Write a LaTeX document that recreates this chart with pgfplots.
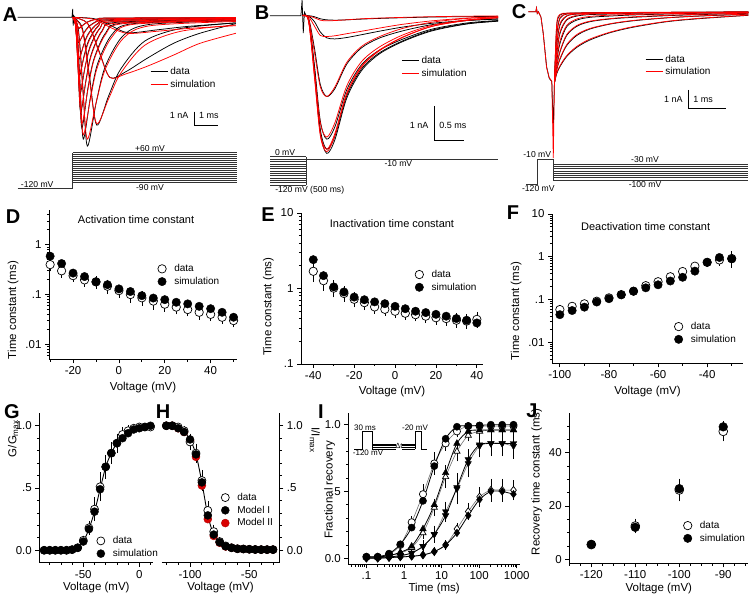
\documentclass[border=0pt]{standalone}
\usepackage{pgfplots}
\pgfplotsset{compat=1.18}
\usepackage{pgfplotstable}
\usepackage{fontspec}
\setmainfont{Liberation Sans}
\newcommand{\fs}[1]{\fontsize{#1}{#1}\selectfont}
\newcommand{\lgsp}[1]{\hspace{6pt}#1}

% ---------- current traces (t in ms, I in nA; d = data, s = simulation)
% panel A, activation
\pgfplotstableread{
t d s
0 0 0
0.9 -0.1 -0.15
1.6 -0.6 -0.75
2.3 -1.1 -1.15
3.5 -0.9 -1.0
4.8 -0.65 -0.8
6.8 -0.4 -0.6
}\tAa
\pgfplotstableread{
t d s
0 0 0
0.62 -0.43 -0.45
1.09 -2.37 -2.45
1.55 -4.3 -4.3
2.2 -3.9 -4.05
3.1 -2.93 -3.5
4.2 -1.86 -2.7
5.3 -1.14 -1.86
6.8 -0.45 -1.14
}\tAb
\pgfplotstableread{
t d s
0 0 0
0.4 -0.77 -0.9
0.7 -4.2 -4.5
1.0 -7.7 -7.6
1.5 -5.6 -5.8
2.0 -3.7 -4.0
3.0 -1.7 -2.0
4.5 -0.8 -1.0
6.8 -0.4 -0.55
}\tAc
\pgfplotstableread{
t d s
0 0 0
0.24 -0.92 -1.1
0.43 -5.1 -5.5
0.61 -9.2 -8.7
0.99 -6.0 -6.0
1.36 -3.5 -3.7
2.11 -1.3 -1.5
3.24 -0.5 -0.6
6.8 -0.25 -0.3
}\tAd
\pgfplotstableread{
t d s
0 0 0
0.18 -0.87 -1.0
0.31 -4.8 -5.2
0.44 -8.7 -8.4
0.74 -5.7 -5.8
1.04 -3.3 -3.5
1.64 -1.22 -1.4
2.54 -0.45 -0.5
6.8 -0.2 -0.25
}\tAe
\pgfplotstableread{
t d s
0 0 0
0.15 -0.79 -0.9
0.27 -4.3 -4.6
0.38 -7.9 -7.6
0.63 -5.1 -5.2
0.88 -3.0 -3.1
1.38 -1.1 -1.2
2.13 -0.4 -0.45
6.8 -0.2 -0.2
}\tAf
\pgfplotstableread{
t d s
0 0 0
0.13 -0.68 -0.75
0.23 -3.7 -3.9
0.33 -6.8 -6.6
0.56 -4.4 -4.5
0.78 -2.6 -2.7
1.23 -0.95 -1.0
1.9 -0.35 -0.4
6.8 -0.15 -0.15
}\tAg
\pgfplotstableread{
t d s
0 0 0
0.12 -0.55 -0.6
0.21 -3.0 -3.2
0.3 -5.5 -5.3
0.51 -3.6 -3.6
0.72 -2.1 -2.2
1.14 -0.77 -0.8
1.77 -0.3 -0.3
6.8 -0.12 -0.12
}\tAh
\pgfplotstableread{
t d s
0 0 0
0.11 -0.42 -0.45
0.2 -2.3 -2.4
0.28 -4.2 -4.0
0.48 -2.7 -2.8
0.68 -1.6 -1.7
1.08 -0.59 -0.62
1.68 -0.22 -0.24
6.8 -0.1 -0.1
}\tAi
\pgfplotstableread{
t d s
0 0 0
0.1 -0.3 -0.32
0.18 -1.65 -1.7
0.26 -3.0 -2.9
0.46 -1.95 -2.0
0.66 -1.14 -1.2
1.06 -0.42 -0.45
1.66 -0.16 -0.17
6.8 -0.07 -0.07
}\tAj
\pgfplotstableread{
t d s
0 0 0
0.1 -0.18 -0.2
0.18 -1.0 -1.05
0.25 -1.8 -1.75
0.45 -1.17 -1.2
0.65 -0.68 -0.72
1.05 -0.25 -0.27
1.65 -0.1 -0.1
6.8 -0.04 -0.04
}\tAk
\pgfplotstableread{
t d s
0 0 0
0.1 -0.08 -0.09
0.18 -0.44 -0.46
0.25 -0.8 -0.78
0.45 -0.52 -0.54
0.65 -0.3 -0.32
1.05 -0.11 -0.12
1.65 -0.05 -0.05
6.8 -0.02 -0.02
}\tAl

% panel B, inactivation (test pulse to -10 mV)
\pgfplotstableread{
t a1 b1 a2 b2 a3 b3 a4 b4 a5 b5 a6 b6
0 0 0 0 0 0 0 0 0 0 0 0 0
0.1 -0.12 -0.16 -0.12 -0.15 -0.11 -0.14 -0.07 -0.09 -0.01 -0.03 0 -0.01
0.2 -1.59 -1.76 -1.54 -1.73 -1.42 -1.58 -0.93 -1.05 -0.17 -0.3 -0.03 -0.06
0.3 -3.37 -3.45 -3.27 -3.39 -3.03 -3.08 -1.98 -2.05 -0.47 -0.57 -0.09 -0.13
0.41 -3.97 -3.92 -3.85 -3.85 -3.56 -3.5 -2.33 -2.33 -0.64 -0.6 -0.12 -0.15
0.55 -3.57 -3.45 -3.47 -3.39 -3.2 -3.08 -2.1 -2.05 -0.67 -0.58 -0.13 -0.14
0.75 -2.38 -2.27 -2.31 -2.23 -2.14 -2.03 -1.4 -1.35 -0.63 -0.52 -0.12 -0.12
1.0 -1.59 -1.49 -1.54 -1.46 -1.42 -1.33 -0.93 -0.89 -0.55 -0.45 -0.1 -0.09
1.3 -1.11 -1.02 -1.08 -1.0 -1.0 -0.91 -0.65 -0.61 -0.45 -0.36 -0.08 -0.07
1.7 -0.75 -0.63 -0.73 -0.62 -0.68 -0.56 -0.44 -0.37 -0.33 -0.25 -0.06 -0.05
2.2 -0.44 -0.31 -0.42 -0.31 -0.39 -0.28 -0.26 -0.19 -0.22 -0.15 -0.04 -0.03
2.8 -0.24 -0.14 -0.23 -0.13 -0.21 -0.12 -0.14 -0.08 -0.14 -0.07 -0.03 -0.015
3.33 -0.16 -0.06 -0.15 -0.06 -0.14 -0.05 -0.09 -0.03 -0.1 -0.04 -0.02 -0.01
}\tB

% panel C, deactivation tails
\pgfplotstableread{
t d s
-0.67 0 0
-0.47 0 0
-0.45 0.2 0.2
-0.43 -0.1 -0.1
-0.4 0 0
-0.33 -0.3 -0.3
-0.27 -1.18 -1.2
-0.18 -3.0 -3.05
-0.11 -3.64 -3.6
-0.04 -3.82 -3.8
0 -6.4 -8.0
0.03 -3.9 -3.9
}\tCpre
\pgfplotstableread{
t a1 b1 a2 b2 a3 b3 a4 b4 a5 b5 a6 b6 a7 b7 a8 b8
0.03 -3.9 -3.9 -3.9 -3.9 -3.9 -3.9 -3.9 -3.9 -3.9 -3.9 -3.9 -3.9 -3.9 -3.9 -3.9 -3.9
0.09 -0.82 -0.7 -1.37 -1.25 -1.91 -1.8 -2.37 -2.3 -2.73 -2.65 -3.0 -2.95 -3.2 -3.15 -3.4 -3.35
0.18 -0.18 -0.15 -0.36 -0.32 -0.73 -0.65 -1.18 -1.1 -1.73 -1.6 -2.2 -2.15 -2.6 -2.55 -3.0 -2.95
0.36 -0.09 -0.08 -0.13 -0.12 -0.24 -0.22 -0.46 -0.42 -0.82 -0.75 -1.3 -1.25 -1.85 -1.8 -2.45 -2.4
0.63 -0.07 -0.07 -0.09 -0.09 -0.13 -0.12 -0.24 -0.2 -0.46 -0.4 -0.8 -0.76 -1.3 -1.25 -1.95 -1.9
0.98 -0.06 -0.06 -0.07 -0.07 -0.09 -0.09 -0.16 -0.13 -0.31 -0.26 -0.55 -0.52 -0.95 -0.92 -1.55 -1.5
1.52 -0.05 -0.05 -0.06 -0.06 -0.07 -0.07 -0.13 -0.1 -0.24 -0.19 -0.4 -0.38 -0.68 -0.66 -1.15 -1.12
2.14 -0.05 -0.04 -0.05 -0.05 -0.06 -0.06 -0.09 -0.08 -0.18 -0.15 -0.31 -0.28 -0.5 -0.48 -0.85 -0.82
3.04 -0.04 -0.03 -0.04 -0.04 -0.05 -0.05 -0.06 -0.06 -0.13 -0.11 -0.22 -0.2 -0.34 -0.33 -0.55 -0.53
3.93 -0.03 -0.03 -0.03 -0.03 -0.04 -0.04 -0.05 -0.05 -0.09 -0.08 -0.16 -0.14 -0.24 -0.23 -0.38 -0.36
5.23 -0.02 -0.02 -0.02 -0.02 -0.03 -0.03 -0.03 -0.03 -0.05 -0.05 -0.09 -0.08 -0.14 -0.13 -0.2 -0.19
}\tC

% ---------- summary data (o = data, e = SEM, f = simulation)
\pgfplotstableread{
v o e f
-30 0.40 0.08 0.59
-25 0.30 0.06 0.42
-20 0.24 0.04 0.27
-15 0.197 0.04 0.23
-10 0.18 0.035 0.18
-5 0.147 0.035 0.158
0 0.12 0.025 0.13
5 0.10 0.025 0.115
10 0.086 0.02 0.095
15 0.074 0.02 0.085
20 0.064 0.015 0.079
25 0.056 0.012 0.070
30 0.050 0.01 0.065
35 0.044 0.01 0.058
40 0.040 0.008 0.052
45 0.035 0.007 0.044
50 0.030 0.006 0.035
}\tD
\pgfplotstableread{
v o e f
-40 1.69 0.4 2.41
-35 1.27 0.28 1.48
-30 1.01 0.2 1.05
-25 0.86 0.15 0.90
-20 0.72 0.12 0.77
-15 0.65 0.1 0.71
-10 0.57 0.08 0.665
-5 0.53 0.07 0.63
0 0.50 0.07 0.58
5 0.47 0.06 0.54
10 0.45 0.06 0.50
15 0.43 0.06 0.48
20 0.41 0.06 0.455
25 0.40 0.06 0.43
30 0.38 0.06 0.40
35 0.37 0.06 0.38
40 0.39 0.07 0.35
}\tE
\pgfplotstableread{
v o e f
-100 0.058 0.008 0.044
-95 0.069 0.008 0.055
-90 0.079 0.01 0.066
-85 0.091 0.01 0.087
-80 0.109 0.012 0.104
-75 0.13 0.015 0.128
-70 0.156 0.015 0.156
-65 0.21 0.02 0.187
-60 0.26 0.02 0.22
-55 0.34 0.03 0.27
-50 0.45 0.04 0.33
-45 0.60 0.05 0.46
-40 0.74 0.1 0.74
-35 0.84 0.15 0.96
-30 0.91 0.3 0.89
}\tF
\pgfplotstableread{
v o e f
-85 0 0 0
-80 0 0 0
-75 0 0 0
-70 0 0 0
-65 0 0 0
-60 0.005 0 0.005
-55 0.02 0.01 0.02
-50 0.08 0.02 0.07
-45 0.18 0.04 0.17
-40 0.33 0.08 0.31
-35 0.51 0.1 0.49
-30 0.67 0.08 0.67
-25 0.78 0.07 0.78
-20 0.86 0.06 0.86
-15 0.93 0.04 0.90
-10 0.96 0.03 0.94
-5 0.98 0.02 0.97
0 0.99 0.02 0.98
5 0.99 0.01 0.99
10 0.99 0.01 1.0
}\tG
\pgfplotstableread{
v o e f m
-120 1.0 0 1.0 1.0
-115 1.0 0 1.0 1.0
-110 0.99 0.01 0.98 0.98
-105 0.96 0.02 0.95 0.95
-100 0.87 0.05 0.89 0.88
-95 0.78 0.06 0.77 0.75
-90 0.56 0.07 0.545 0.52
-85 0.32 0.06 0.28 0.25
-80 0.15 0.04 0.126 0.115
-75 0.07 0.02 0.064 0.06
-70 0.035 0.01 0.032 0.03
-65 0.02 0 0.02 0.02
-60 0.012 0 0.012 0.012
-55 0.01 0 0.01 0.01
-50 0.008 0 0.008 0.008
-45 0.006 0 0.006 0.006
-40 0.005 0 0.005 0.005
-35 0.005 0 0.005 0.005
-30 0.005 0 0.005 0.005
}\tH
\pgfplotstableread{
t a ao ae b bo be c co ce d do de
0.1 0.012 0.01 0 0.01 0.01 0 0.005 0.005 0 0 0 0
0.2 0.012 0.01 0 0.01 0.01 0 0.005 0.005 0 0 0 0
0.4 0.035 0.03 0 0.02 0.02 0 0.01 0.01 0 0.005 0.005 0
0.8 0.105 0.1 0.01 0.045 0.04 0.01 0.02 0.02 0.01 0.01 0.01 0
1.6 0.23 0.27 0.03 0.09 0.08 0.02 0.04 0.04 0.02 0.015 0.015 0.01
3.2 0.43 0.48 0.06 0.22 0.19 0.03 0.09 0.09 0.03 0.025 0.025 0.01
6.4 0.69 0.71 0.07 0.40 0.38 0.05 0.18 0.18 0.05 0.05 0.05 0.02
12.8 0.895 0.86 0.04 0.64 0.61 0.07 0.32 0.35 0.06 0.10 0.10 0.02
25.6 0.985 0.95 0.03 0.86 0.80 0.06 0.53 0.52 0.1 0.19 0.22 0.03
51.2 0.99 0.99 0.01 0.95 0.92 0.03 0.74 0.71 0.09 0.32 0.35 0.05
102.4 0.995 0.99 0.01 0.96 0.95 0.02 0.85 0.84 0.07 0.44 0.46 0.06
204.8 1.0 0.99 0.01 0.96 0.96 0.01 0.86 0.86 0.08 0.50 0.51 0.07
409.6 1.0 0.99 0.01 0.96 0.96 0.01 0.86 0.86 0.08 0.50 0.51 0.07
819.2 1.0 0.99 0.01 0.96 0.96 0.01 0.86 0.84 0.08 0.48 0.51 0.06
}\tI
\pgfplotstableread{
v o e f
-120 5.5 1 5.6
-110 12.5 2 12.0
-100 26.0 3.5 26.5
-90 48.0 3 49.7
}\tJ

\pgfplotsset{
  panel/.style={scale only axis, anchor=south west, clip=false,
    axis x line*=bottom, axis y line*=left,
    axis line style={line width=0.9pt},
    tick align=outside, major tick length=4pt, minor tick length=2.2pt,
    tick style={black, line width=0.8pt},
    tick label style={font=\fs{11.5}},
    label style={font=\fs{11.5}},
    legend cell align=left,
    legend style={draw=none, fill=none, font=\fs{10}, anchor=north west,
      inner sep=0pt, row sep=0pt}},
  trace/.style={hide axis, clip=false, anchor=south west,
    legend cell align=left,
    legend style={draw=none, fill=none, font=\fs{10}, anchor=north west,
      inner sep=0pt, row sep=0pt}},
  tr/.style={forget plot, smooth, tension=0.5, line width=0.75pt},
  prot/.style={forget plot, black!80, line width=0.55pt},
  od/.style={only marks, mark=*, mark size=#1, mark options={fill=white, draw=black, line width=0.7pt}},
  od/.default=4.2pt,
  fd/.style={only marks, mark=*, mark size=#1, mark options={fill=black, draw=black}},
  fd/.default=4.2pt,
  eb/.style={/pgfplots/error bars/y dir=both, /pgfplots/error bars/y explicit,
    /pgfplots/error bars/error bar style={line width=0.6pt, black},
    /pgfplots/error bars/error mark options={mark size=2pt, line width=0.6pt, black}},
}

\begin{document}
\begin{tikzpicture}
\useasboundingbox (0pt,0pt) rectangle (751pt,-596pt);

\foreach \l/\x/\y in {A/10/15, B/262/13, C/519/12, D/13/217, E/268/215, F/513/213, G/12/412, H/163/412, I/321/412, J/532/411}
  \node[font=\fs{20}\bfseries] at (\x pt,-\y pt) {\l};

% ================= A traces
\begin{axis}[trace, at={(17.5pt,-151.7pt)}, x=24pt, y=14pt,
  xmin=-2.3, xmax=6.85, ymin=-9.6, ymax=0.8,
  legend style={at={(0.603,0.595)}, anchor=north west}]
\addlegendimage{color=black, line width=1.2pt}\addlegendentry{data}
\addlegendimage{color=red, line width=1.2pt}\addlegendentry{simulation}
\addplot[forget plot, black, line width=0.75pt] coordinates {(-2.3,0) (-0.03,0) (0,0.6) (0.02,-0.6) (0.05,0.1) (0.08,0)};
\addplot[tr, black] table[x=t, y=d]{\tAa};
\addplot[tr, black] table[x=t, y=d]{\tAb};
\addplot[tr, black] table[x=t, y=d]{\tAc};
\addplot[tr, black] table[x=t, y=d]{\tAd};
\addplot[tr, black] table[x=t, y=d]{\tAe};
\addplot[tr, black] table[x=t, y=d]{\tAf};
\addplot[tr, black] table[x=t, y=d]{\tAg};
\addplot[tr, black] table[x=t, y=d]{\tAh};
\addplot[tr, black] table[x=t, y=d]{\tAi};
\addplot[tr, black] table[x=t, y=d]{\tAj};
\addplot[tr, black] table[x=t, y=d]{\tAk};
\addplot[tr, black] table[x=t, y=d]{\tAl};
\addplot[tr, red] table[x=t, y=s]{\tAa};
\addplot[tr, red] table[x=t, y=s]{\tAb};
\addplot[tr, red] table[x=t, y=s]{\tAc};
\addplot[tr, red] table[x=t, y=s]{\tAd};
\addplot[tr, red] table[x=t, y=s]{\tAe};
\addplot[tr, red] table[x=t, y=s]{\tAf};
\addplot[tr, red] table[x=t, y=s]{\tAg};
\addplot[tr, red] table[x=t, y=s]{\tAh};
\addplot[tr, red] table[x=t, y=s]{\tAi};
\addplot[tr, red] table[x=t, y=s]{\tAj};
\addplot[tr, red] table[x=t, y=s]{\tAk};
\addplot[tr, red] table[x=t, y=s]{\tAl};
\addplot[forget plot, black, line width=0.9pt] coordinates {(5.07,-6.74) (5.07,-7.76) (6.07,-7.76)};
\node[anchor=east, font=\fs{9}] at (axis cs:4.97,-7.0) {1 nA};
\node[anchor=west, font=\fs{9}] at (axis cs:5.12,-7.0) {1 ms};
\end{axis}

% A protocol
\begin{axis}[trace, at={(17.5pt,-189.7pt)}, x=24pt, y=0.2pt,
  xmin=-2.3, xmax=6.85, ymin=-125, ymax=65]
\addplot[prot] coordinates {(-2.3,-120) (0,-120) (0,60)};
\pgfplotsinvokeforeach{-90,-80,-70,-60,-50,-40,-30,-20,-10,0,10,20,30,40,50,60}{
  \addplot[prot] coordinates {(0,#1) (6.85,#1)};}
\node[anchor=south, font=\fs{8.6}, inner sep=1pt] at (axis cs:3.22,60) {+60 mV};
\node[anchor=north, font=\fs{8.6}, inner sep=1pt] at (axis cs:3.22,-91) {-90 mV};
\node[anchor=south, font=\fs{8.6}, inner sep=1pt] at (axis cs:-1.48,-119) {-120 mV};
\end{axis}

% ================= B traces
\begin{axis}[trace, at={(269.8pt,-161.4pt)}, x=58.7pt, y=34.7pt,
  xmin=-0.56, xmax=3.33, ymin=-4.2, ymax=0.3,
  legend style={at={(0.575,0.688)}, anchor=north west}]
\addlegendimage{color=black, line width=1.2pt}\addlegendentry{data}
\addlegendimage{color=red, line width=1.2pt}\addlegendentry{simulation}
\addplot[forget plot, black, line width=0.75pt] coordinates {(-0.56,0) (-0.03,0) (-0.01,0.45) (0.01,-0.5) (0.03,0.1) (0.06,0)};
\addplot[tr, black] table[x=t, y=a1]{\tB};
\addplot[tr, black] table[x=t, y=a2]{\tB};
\addplot[tr, black] table[x=t, y=a3]{\tB};
\addplot[tr, black] table[x=t, y=a4]{\tB};
\addplot[tr, black] table[x=t, y=a5]{\tB};
\addplot[tr, black] table[x=t, y=a6]{\tB};
\addplot[tr, red] table[x=t, y=b1]{\tB};
\addplot[tr, red] table[x=t, y=b2]{\tB};
\addplot[tr, red] table[x=t, y=b3]{\tB};
\addplot[tr, red] table[x=t, y=b4]{\tB};
\addplot[tr, red] table[x=t, y=b5]{\tB};
\addplot[tr, red] table[x=t, y=b6]{\tB};
\addplot[forget plot, black, line width=0.9pt] coordinates {(2.24,-2.6) (2.24,-3.6) (2.74,-3.6)};
\node[anchor=east, font=\fs{9}] at (axis cs:2.2,-3.15) {1 nA};
\node[anchor=west, font=\fs{9}] at (axis cs:2.27,-3.15) {0.5 ms};
\end{axis}

% B protocol
\begin{axis}[trace, at={(269.8pt,-186.2pt)}, x=58.7pt, y=0.236pt,
  xmin=-0.56, xmax=3.33, ymin=-125, ymax=5]
\pgfplotsinvokeforeach{0,-10,-20,-30,-40,-50,-60,-70,-80,-90,-100,-110,-120}{
  \addplot[prot] coordinates {(-0.55,#1) (0.056,#1)};}
\addplot[prot] coordinates {(0.056,-120) (0.056,0)};
\addplot[prot] coordinates {(0.056,-10) (3.33,-10)};
\node[anchor=south, font=\fs{8.6}, inner sep=1pt] at (axis cs:-0.3,0) {0 mV};
\node[anchor=north, font=\fs{8.6}, inner sep=1pt] at (axis cs:1.63,-11) {-10 mV};
\node[anchor=north, font=\fs{8.6}, inner sep=1pt] at (axis cs:0.12,-121) {-120 mV (500 ms)};
\end{axis}

% ================= C traces
\begin{axis}[trace, at={(528.3pt,-159.9pt)}, x=37.3pt, y=18.3pt,
  xmin=-0.67, xmax=5.23, ymin=-8.1, ymax=0.4,
  legend style={at={(0.53,0.69)}, anchor=north west}]
\addlegendimage{color=black, line width=1.2pt}\addlegendentry{data}
\addlegendimage{color=red, line width=1.2pt}\addlegendentry{simulation}
\addplot[forget plot, black, line width=0.75pt] table[x=t, y=d]{\tCpre};
\addplot[tr, black] table[x=t, y=a1]{\tC};
\addplot[tr, black] table[x=t, y=a2]{\tC};
\addplot[tr, black] table[x=t, y=a3]{\tC};
\addplot[tr, black] table[x=t, y=a4]{\tC};
\addplot[tr, black] table[x=t, y=a5]{\tC};
\addplot[tr, black] table[x=t, y=a6]{\tC};
\addplot[tr, black] table[x=t, y=a7]{\tC};
\addplot[tr, black] table[x=t, y=a8]{\tC};
\addplot[forget plot, red, line width=0.75pt] table[x=t, y=s]{\tCpre};
\addplot[tr, red] table[x=t, y=b1]{\tC};
\addplot[tr, red] table[x=t, y=b2]{\tC};
\addplot[tr, red] table[x=t, y=b3]{\tC};
\addplot[tr, red] table[x=t, y=b4]{\tC};
\addplot[tr, red] table[x=t, y=b5]{\tC};
\addplot[tr, red] table[x=t, y=b6]{\tC};
\addplot[tr, red] table[x=t, y=b7]{\tC};
\addplot[tr, red] table[x=t, y=b8]{\tC};
\addplot[forget plot, black, line width=0.9pt] coordinates {(3.62,-4.28) (3.62,-5.28) (4.62,-5.28)};
\node[anchor=east, font=\fs{9}] at (axis cs:3.56,-4.77) {1 nA};
\node[anchor=west, font=\fs{9}] at (axis cs:3.66,-4.77) {1 ms};
\end{axis}

% C protocol
\begin{axis}[trace, at={(526.4pt,-185.7pt)}, x=37.3pt, y=0.2286pt,
  xmin=-0.72, xmax=5.23, ymin=-125, ymax=0]
\addplot[prot] coordinates {(-0.72,-120) (-0.42,-120) (-0.42,-10) (0,-10) (0,-100)};
\pgfplotsinvokeforeach{-30,-40,-50,-60,-70,-80,-90,-100}{
  \addplot[prot] coordinates {(0,#1) (5.23,#1)};}
\node[anchor=south, font=\fs{8.6}, inner sep=1pt] at (axis cs:-0.43,-9) {-10 mV};
\node[anchor=south, font=\fs{8.6}, inner sep=1pt] at (axis cs:2.46,-29) {-30 mV};
\node[anchor=north, font=\fs{8.6}, inner sep=1pt] at (axis cs:2.46,-101) {-100 mV};
\node[anchor=north, font=\fs{8.6}, inner sep=1pt] at (axis cs:-0.4,-121) {-120 mV};
\end{axis}

% ================= D
\begin{axis}[panel, at={(49pt,-359.3pt)}, width=188pt, height=149.3pt,
  xmin=-30.5, xmax=51.5, ymode=log, ymin=0.005, ymax=5,
  xtick={-20,0,20,40}, xticklabels={-20,0,20,40}, minor xtick={-30,-10,10,30,50},
  ytick={0.01,0.1,1}, yticklabels={.01,.1,1},
  minor ytick={0.006,0.007,0.008,0.009,0.02,0.03,0.04,0.05,0.06,0.07,0.08,0.09,0.2,0.3,0.4,0.5,0.6,0.7,0.8,0.9,2,3,4},
  xlabel={Voltage (mV)}, ylabel={Time constant (ms)},
  ylabel style={at={(ticklabel cs:0.33)}},
  legend style={at={(0.578,0.65)}, anchor=north west}]
\addplot[od, forget plot, eb] table[x=v, y=o, y error=e]{\tD};
\addplot[fd, forget plot] table[x=v, y=f]{\tD};
\node[font=\fs{11}] at (rel axis cs:0.463,0.933) {Activation time constant};
\addlegendimage{od}\addlegendentry{\lgsp{data}}
\addlegendimage{fd}\addlegendentry{\lgsp{simulation}}
\end{axis}

% ================= E
\begin{axis}[panel, at={(301pt,-364pt)}, width=182pt, height=151pt,
  xmin=-46, xmax=43, ymode=log, ymin=0.1, ymax=10,
  xtick={-40,-20,0,20,40}, xticklabels={-40,-20,0,20,40}, minor xtick={-30,-10,10,30},
  ytick={0.1,1,10}, yticklabels={.1,1,10},
  minor ytick={0.2,0.3,0.4,0.5,0.6,0.7,0.8,0.9,2,3,4,5,6,7,8,9},
  xlabel={Voltage (mV)}, ylabel={Time constant (ms)},
  ylabel style={at={(ticklabel cs:0.38)}},
  legend style={at={(0.626,0.636)}, anchor=north west}]
\addplot[od, forget plot, eb] table[x=v, y=o, y error=e]{\tE};
\addplot[fd, forget plot] table[x=v, y=f]{\tE};
\node[font=\fs{11}] at (rel axis cs:0.5,0.93) {Inactivation time constant};
\addlegendimage{od}\addlegendentry{\lgsp{data}}
\addlegendimage{fd}\addlegendentry{\lgsp{simulation}}
\end{axis}

% ================= F
\begin{axis}[panel, at={(552pt,-363.3pt)}, width=191pt, height=149.3pt,
  xmin=-103.2, xmax=-25.4, ymode=log, ymin=0.0032, ymax=10,
  xtick={-100,-80,-60,-40}, xticklabels={-100,-80,-60,-40}, minor xtick={-90,-70,-50,-30},
  ytick={0.01,0.1,1,10}, yticklabels={.01,.1,1,10},
  minor ytick={0.004,0.005,0.006,0.007,0.008,0.009,0.02,0.03,0.04,0.05,0.06,0.07,0.08,0.09,0.2,0.3,0.4,0.5,0.6,0.7,0.8,0.9,2,3,4,5,6,7,8,9},
  xlabel={Voltage (mV)}, ylabel={Time constant (ms)},
  ylabel style={at={(ticklabel cs:0.35)}},
  legend style={at={(0.64,0.29)}, anchor=north west}]
\addplot[od, forget plot, eb] table[x=v, y=o, y error=e]{\tF};
\addplot[fd, forget plot] table[x=v, y=f]{\tF};
\node[font=\fs{11}] at (rel axis cs:0.49,0.915) {Deactivation time constant};
\addlegendimage{od}\addlegendentry{\lgsp{data}}
\addlegendimage{fd}\addlegendentry{\lgsp{simulation}}
\end{axis}

% ================= G
\begin{axis}[panel, at={(39.3pt,-562.7pt)}, width=114pt, height=149.4pt,
  xmin=-89.3, xmax=12.5, ymin=-0.1, ymax=1.1,
  xtick={-50,0}, xticklabels={-50,0}, minor xtick={-80,-70,-60,-40,-30,-20,-10,10},
  ytick={0,0.5,1}, yticklabels={0.0,.5,1.0},
  minor ytick={0.1,0.2,0.3,0.4,0.6,0.7,0.8,0.9},
  xlabel={Voltage (mV)}, ylabel={G/G\textsubscript{max}},
  xlabel style={yshift=3pt},
  ylabel style={at={(axis description cs:-0.23,0.83)}, anchor=center},
  legend style={at={(0.503,0.19)}, anchor=north west}]
\addplot[forget plot, smooth, black, line width=0.9pt] table[x=v, y=f]{\tG};
\addplot[od=4pt, forget plot, eb] table[x=v, y=o, y error=e]{\tG};
\addplot[fd=4pt, forget plot] table[x=v, y=f]{\tG};
\addlegendimage{od=4pt}\addlegendentry{\lgsp{data}}
\addlegendimage{fd=4pt}\addlegendentry{\lgsp{simulation}}
\end{axis}

% ================= H
\begin{axis}[panel, at={(161.7pt,-562.7pt)}, width=117.6pt, height=149.4pt,
  axis y line*=right, yticklabel pos=right,
  xmin=-123.9, xmax=-24.7, ymin=-0.1, ymax=1.1,
  xtick={-100,-50}, xticklabels={-100,-50}, minor xtick={-120,-110,-90,-80,-70,-60,-40,-30},
  ytick={0,0.5,1}, yticklabels={0.0,.5,1.0},
  minor ytick={0.1,0.2,0.3,0.4,0.6,0.7,0.8,0.9},
  xlabel={Voltage (mV)}, ylabel={I/I\textsubscript{max}},
  xlabel style={yshift=3pt},
  ylabel style={at={(ticklabel cs:0.82)}, rotate=180},
  legend style={at={(0.505,0.48)}, anchor=north west}]
\addplot[forget plot, smooth, black, line width=0.9pt] table[x=v, y=f]{\tH};
\addplot[only marks, mark=*, mark size=4pt, mark options={fill=red!85!black, draw=red!70!black}, forget plot] table[x=v, y=m]{\tH};
\addplot[od=4pt, forget plot, eb] table[x=v, y=o, y error=e]{\tH};
\addplot[fd=4pt, forget plot] table[x=v, y=f]{\tH};
\addlegendimage{od=4pt}\addlegendentry{\lgsp{data}}
\addlegendimage{fd=4pt}\addlegendentry{\lgsp{Model I}}
\addlegendimage{only marks, mark=*, mark size=4pt, mark options={fill=red!85!black, draw=red!70!black}}\addlegendentry{\lgsp{Model II}}
\end{axis}

% ================= I
\begin{axis}[panel, at={(348.3pt,-564.3pt)}, width=171.7pt, height=151.6pt,
  xmode=log, xmin=0.033, xmax=1220, ymin=-0.045, ymax=1.09,
  xtick={0.1,1,10,100,1000}, xticklabels={.1,1,10,100,1000},
  minor xtick={0.04,0.05,0.06,0.07,0.08,0.09,0.2,0.3,0.4,0.5,0.6,0.7,0.8,0.9,2,3,4,5,6,7,8,9,20,30,40,50,60,70,80,90,200,300,400,500,600,700,800,900},
  ytick={0,0.5,1}, yticklabels={0.0,.5,1.0},
  minor ytick={0.1,0.2,0.3,0.4,0.6,0.7,0.8,0.9},
  xlabel={Time (ms)}, ylabel={Fractional recovery},
  xlabel style={yshift=4pt},
  ylabel style={at={(axis description cs:-0.057,0.49)}, anchor=south}]
\pgfplotsinvokeforeach{a,b,c,d}{
  \addplot[forget plot, smooth, black!55, line width=0.6pt] table[x=t, y=#1o]{\tI};
  \addplot[forget plot, smooth, black, line width=0.8pt] table[x=t, y=#1]{\tI};}
\addplot[od=3.6pt, forget plot, eb] table[x=t, y=ao, y error=ae]{\tI};
\addplot[od=3.6pt, mark=triangle*, forget plot, eb] table[x=t, y=bo, y error=be]{\tI};
\addplot[od=3.6pt, mark=triangle*, mark options={rotate=180}, forget plot, eb] table[x=t, y=co, y error=ce]{\tI};
\addplot[od=3.8pt, mark=diamond*, forget plot, eb] table[x=t, y=do, y error=de]{\tI};
\addplot[fd=3.6pt, forget plot] table[x=t, y=a]{\tI};
\addplot[fd=3.8pt, mark=triangle*, forget plot] table[x=t, y=b]{\tI};
\addplot[fd=3.8pt, mark=triangle*, mark options={rotate=180}, forget plot] table[x=t, y=c]{\tI};
\addplot[fd=3.8pt, mark=diamond*, forget plot] table[x=t, y=d]{\tI};
\end{axis}

% I inset protocol
\begin{axis}[trace, at={(354pt,-449.9pt)}, x=1pt, y=0.173pt,
  xmin=0, xmax=73, ymin=-125, ymax=-15]
\addplot[forget plot, black, line width=0.6pt] coordinates {(0,-120) (8,-120) (8,-20) (18,-20) (18,-120)};
\pgfplotsinvokeforeach{-90,-100,-110,-120}{
  \addplot[forget plot, black, line width=0.6pt] coordinates {(18,#1) (42,#1)};
  \addplot[forget plot, black, line width=0.6pt] coordinates {(48,#1) (61,#1)};}
\addplot[forget plot, black, line width=0.6pt] coordinates {(61,-120) (61,-20) (67,-20) (67,-120) (73,-120)};
\node[anchor=south, font=\fs{8}, inner sep=0.5pt] at (axis cs:11,-20) {30 ms};
\node[anchor=north, font=\fs{8}, inner sep=0.5pt] at (axis cs:14,-121) {-120 mV};
\node[anchor=south, font=\fs{8}, inner sep=0.5pt] at (axis cs:61,-20) {-20 mV};
\node[font=\fs{7.5}, inner sep=0pt] at (axis cs:45,-104) {Δt};
\end{axis}

% ================= J
\begin{axis}[panel, at={(569.3pt,-563.3pt)}, width=179pt, height=150.6pt,
  xmin=-125, xmax=-84.3, ymin=-1.5, ymax=55,
  xtick={-120,-110,-100,-90}, xticklabels={-120,-110,-100,-90},
  minor xtick={-125,-122.5,-117.5,-115,-112.5,-107.5,-105,-102.5,-97.5,-95,-92.5,-87.5,-85},
  ytick={0,20,40}, yticklabels={0,20,40},
  minor ytick={5,10,15,25,30,35,45,50},
  xlabel={Voltage (mV)}, ylabel={Recovery time constant (ms)},
  xlabel style={yshift=3pt},
  ylabel style={at={(ticklabel cs:0.54)}},
  legend style={at={(0.637,0.294)}, anchor=north west}]
\addplot[od=4.4pt, forget plot, eb] table[x=v, y=o, y error=e]{\tJ};
\addplot[fd=4.4pt, forget plot] table[x=v, y=f]{\tJ};
\addlegendimage{od}\addlegendentry{\lgsp{data}}
\addlegendimage{fd}\addlegendentry{\lgsp{simulation}}
\end{axis}
\end{tikzpicture}
\end{document}
